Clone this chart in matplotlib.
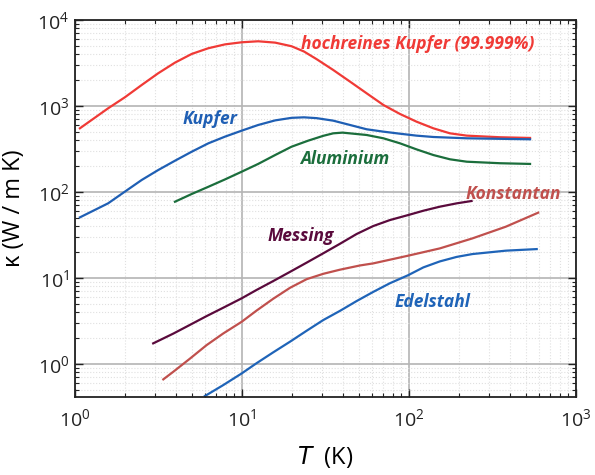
import matplotlib.pyplot as plt
from matplotlib.ticker import LogLocator, NullFormatter

# Wärmeleitfähigkeit
T_cu_rein = [1.07, 1.58, 1.99, 2.51, 3.15, 3.97, 5.0, 6.29, 7.91, 9.95, 12.5, 15.8, 19.8, 23.5,
             28, 35.2, 44.4, 55.8, 70.3, 88.4, 111, 140, 176, 222, 351, 531]
k_cu_rein = [550, 940, 1262, 1754, 2400, 3190, 4025, 4690, 5200, 5500, 5650, 5450, 4950, 4300,
             3500, 2620, 1917, 1404, 1027, 807, 657, 550, 481, 452, 433, 425]

T_cu = [1.07, 1.58, 1.99, 2.51, 3.15, 3.97, 5.0, 6.29, 7.91, 9.95, 12.5, 15.8, 19.8, 23.5,
        28, 35.2, 44.4, 55.8, 70.3, 88.4, 111, 140, 222, 531]
k_cu = [50.7, 73.9, 101, 138, 180, 231, 294, 368, 440, 516, 601, 680, 728, 738,
        722, 675, 601, 536, 503, 476, 452, 436, 421, 410]

T_al = [3.97, 5.0, 6.29, 7.91, 9.95, 12.5, 15.8, 19.8, 24.9, 30.7, 35.2, 40, 55.8, 70.3,
        88.4, 111, 140, 176, 222, 351, 531]
k_al = [77.1, 94.8, 115, 140, 172, 212, 269, 336, 395, 450, 481, 490, 460, 421,
        368, 313, 269, 240, 225, 216, 212]

T_ms = [2.94, 3.88, 4.89, 6.14, 7.73, 9.96, 12.2, 15.4, 19.4, 24.4, 30.7, 38.6, 48.6, 61.1,
        76.9, 99, 122, 153, 193, 237]
k_ms = [1.74, 2.26, 2.86, 3.61, 4.52, 5.81, 7.25, 9.23, 11.8, 15.1, 19.4, 25.0, 32.5, 40.2,
        47.2, 54, 60.6, 67.5, 73.8, 78.6]

T_ko = [3.38, 3.88, 4.89, 6.14, 7.73, 9.96, 12.2, 15.4, 19.4, 24.4, 30.7, 38.6, 50.9, 61.1,
        99, 153, 240, 380, 594]
k_ko = [0.664, 0.814, 1.16, 1.66, 2.27, 3.10, 4.17, 5.75, 7.7, 9.7, 11.2, 12.5, 14.0, 14.8,
        18.2, 22.1, 28.9, 39.5, 57.5]

T_es = [6.0, 7.73, 9.96, 12.2, 15.4, 19.4, 24.4, 30.7, 38.6, 48.6, 61.1, 76.9, 99, 122,
        153, 193, 240, 380, 582]
k_es = [0.425, 0.570, 0.778, 1.02, 1.37, 1.82, 2.44, 3.25, 4.15, 5.4, 6.9, 8.7, 10.8, 13.3,
        15.6, 17.6, 19.0, 20.8, 21.7]

plt.rcParams['font.family'] = ['Open Sans', 'DejaVu Sans']

fig = plt.figure(figsize=(5.95, 4.75), dpi=100)
ax = fig.add_axes([0.126, 0.164, 0.842, 0.794])

ax.plot(T_cu_rein, k_cu_rein, color='#f03a36', lw=1.6)
ax.plot(T_cu, k_cu, color='#1f5fb4', lw=1.6)
ax.plot(T_al, k_al, color='#1b6e3c', lw=1.6)
ax.plot(T_ms, k_ms, color='#5a0a3c', lw=1.6)
ax.plot(T_ko, k_ko, color='#c0504d', lw=1.6)
ax.plot(T_es, k_es, color='#1f64b8', lw=1.6)

ax.set_xscale('log')
ax.set_yscale('log')
ax.set_xlim(1, 1000)
ax.set_ylim(0.413, 1e4)

ax.xaxis.set_minor_locator(LogLocator(base=10, subs=range(2, 10)))
ax.yaxis.set_minor_locator(LogLocator(base=10, subs=range(2, 10)))
ax.xaxis.set_minor_formatter(NullFormatter())
ax.yaxis.set_minor_formatter(NullFormatter())

ax.grid(True, which='major', color='#b4b4b4', lw=1.2)
ax.grid(True, which='minor', color='#e0e0e0', lw=0.8, ls=':')
ax.set_axisbelow(True)

ax.tick_params(which='both', direction='in', top=True, right=True, labelsize=14, colors='#222222')
ax.tick_params(which='major', length=6, width=1)
ax.tick_params(which='minor', length=3, width=0.8)
for s in ax.spines.values():
    s.set_linewidth(1.3)
    s.set_color('#222222')
ax.tick_params(axis='x', pad=8)
ax.tick_params(axis='y', pad=4)

ax.set_xlabel(r'$T$  (K)', fontsize=17, labelpad=10)
ax.set_ylabel('κ (W / m K)', fontsize=17, labelpad=8)

lab = dict(fontsize=12.5, fontweight='bold', fontstyle='italic', ha='center', va='center')
ax.text(0.685, 0.936, 'hochreines Kupfer (99.999%)', transform=ax.transAxes, color='#f03a36', **lab)
ax.text(0.269, 0.738, 'Kupfer', transform=ax.transAxes, color='#1f5fb4', **lab)
ax.text(0.539, 0.630, 'Aluminium', transform=ax.transAxes, color='#1b6e3c', **lab)
ax.text(0.450, 0.428, 'Messing', transform=ax.transAxes, color='#5a0a3c', **lab)
ax.text(0.875, 0.539, 'Konstantan', transform=ax.transAxes, color='#c0504d', **lab)
ax.text(0.713, 0.252, 'Edelstahl', transform=ax.transAxes, color='#1f64b8', **lab)

fig.savefig('out.png', dpi=100)
